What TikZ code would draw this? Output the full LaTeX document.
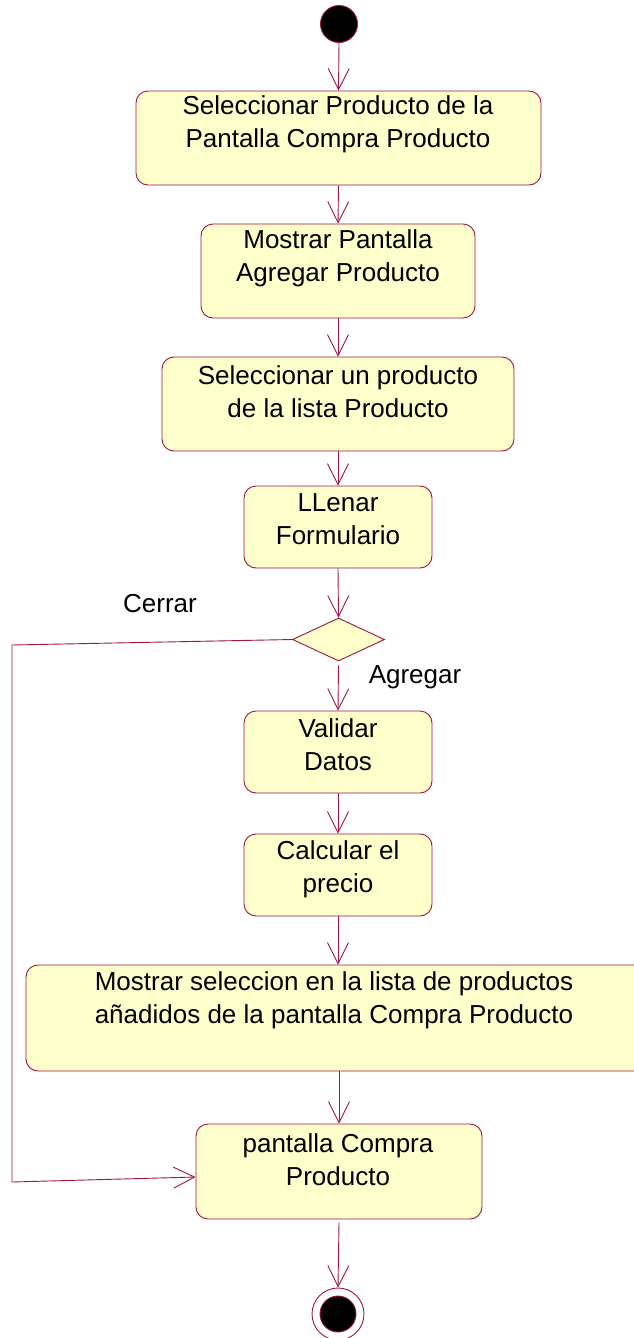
\documentclass[tikz,border=0pt]{standalone}
\usepackage{fontspec}
\setmainfont{Liberation Sans}
\usetikzlibrary{arrows.meta,shapes.geometric}
\definecolor{umlred}{RGB}{160,20,70}
\definecolor{umlfill}{RGB}{255,255,204}
\tikzset{
  actbox/.style={draw=umlred, fill=umlfill, rounded corners=12pt, line width=0.9pt, inner sep=0pt},
  txt/.style={align=center, inner sep=0pt, font=\fontsize{26pt}{33pt}\selectfont},
  flow/.style={draw=umlred, line width=0.9pt, -{Straight Barb[length=21pt,width=21pt,line width=0.9pt]}},
  plain/.style={draw=umlred, line width=0.9pt},
}
\begin{document}
\begin{tikzpicture}[x=1pt,y=-1pt]
\clip (0,0) rectangle (634,1338);
\fill[white] (0,0) rectangle (634,1338);
% start
\node[circle, fill=black, draw=umlred, line width=0.9pt, minimum size=37pt, inner sep=0pt] (start) at (339,24) {};
% boxes
\node[actbox, minimum width=405pt, minimum height=94pt] (b1) at (338.5,138) {};
\node[txt] at (338,124) {Seleccionar Producto de la\\Pantalla Compra Producto};
\node[actbox, minimum width=274pt, minimum height=94pt] (b2) at (338,271) {};
\node[txt] at (338,258.5) {Mostrar Pantalla\\Agregar Producto};
\node[actbox, minimum width=352pt, minimum height=94pt] (b3) at (338,404) {};
\node[txt] at (338,392) {Seleccionar un producto\\de la lista Producto};
\node[actbox, minimum width=188pt, minimum height=82pt] (b4) at (338,527) {};
\node[txt] at (338,519.5) {LLenar\\Formulario};
\node[diamond, draw=umlred, fill=umlfill, line width=0.9pt, minimum width=92pt, minimum height=43pt, inner sep=0pt] (d) at (338.5,639.5) {};
\node[actbox, minimum width=188pt, minimum height=82pt] (b5) at (338,752) {};
\node[txt] at (338,745) {Validar\\Datos};
\node[actbox, minimum width=188pt, minimum height=82pt] (b6) at (338,875) {};
\node[txt] at (338,869) {Calcular el\\precio};
\node[actbox, minimum width=634pt, minimum height=106pt] (b7) at (343,1018) {};
\node[txt] at (334,1000.5) {Mostrar seleccion en la lista de productos\\a\~nadidos de la pantalla Compra Producto};
\node[actbox, minimum width=286pt, minimum height=95pt] (b8) at (339,1171.5) {};
\node[txt] at (338,1160) {pantalla Compra\\Producto};
% end
\node[circle, draw=umlred, fill=white, line width=0.9pt, minimum size=52pt, inner sep=0pt] (end) at (338,1314) {};
\node[circle, fill=black, draw=umlred, line width=0.9pt, minimum size=36pt, inner sep=0pt] at (end.center) {};
% labels
\node[txt] (lc) at (160,604) {Cerrar};
\node[txt] (la) at (415,677) {Agregar};
% connectors
\draw[flow] (start.south) -- (b1.north);
\draw[flow] (b1.south) -- (b2.north);
\draw[flow] (b2.south) -- (b3.north);
\draw[flow] (b3.south) -- (b4.north);
\draw[flow] (b4.south) -- (d.north);
\draw[flow] ([yshift=-4pt]d.south) -- (b5.north);
\draw[flow] (b5.south) -- (b6.north);
\draw[flow] (b6.south) -- (b7.north -| b6.south);
\draw[flow] (b7.south -| b8.north) -- (b8.north);
\draw[flow] ([yshift=-3pt]b8.south) -- (end.north);
\coordinate (c1) at (12,645);
\coordinate (c2) at (12,1182);
\draw[plain] (d.west) -- (c1) -- (c2);
\draw[flow] (c2) -- ([yshift=-5.5pt]b8.west);
\end{tikzpicture}
\end{document}
